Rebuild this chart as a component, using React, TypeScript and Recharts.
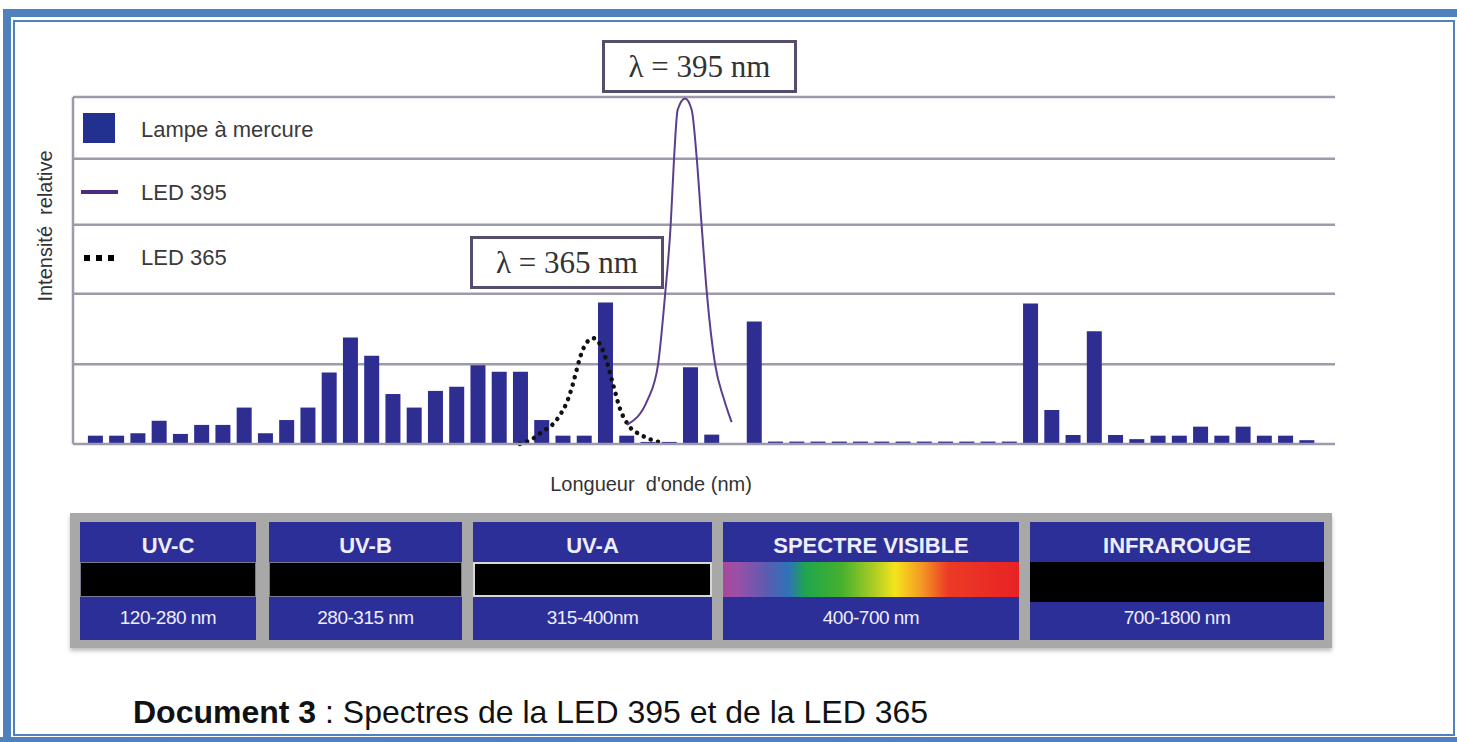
import React from "react";
import { ComposedChart, Bar, Line, XAxis, YAxis, ReferenceLine } from "recharts";

// relative intensity, 100 = top grid line
const mercury = [
  2.4, 2.4, 3.1, 6.7, 2.9, 5.5, 5.5, 10.5, 3.1, 6.9, 10.5, 20.6, 30.7, 25.4, 14.4, 10.5,
  15.3, 16.5, 22.7, 20.8, 20.8, 6.9, 2.4, 2.4, 40.8, 2.4, 0.6, 0.6, 22.1, 2.7, 0, 35.3,
  0.7, 0.7, 0.7, 0.7, 0.7, 0.7, 0.7, 0.7, 0.7, 0.7, 0.7, 0.7,
  40.5, 9.8, 2.6, 32.5, 2.6, 1.4, 2.4, 2.4, 5.0, 2.4, 5.0, 2.4, 2.4, 1.1,
];

// LED curves, x in bar positions
const led395X = [25.01, 25.99, 26.47, 26.8, 27.06, 27.22, 27.39, 27.74, 28.05, 28.29, 28.52, 28.77, 29.15, 29.57, 29.93];
const led395Y = [5.5, 12.9, 23.0, 43.1, 62.9, 82.2, 96.3, 99.6, 96.3, 82.2, 62.9, 43.1, 23.0, 12.9, 6.3];

const led365X = [19.97, 20.54, 21.05, 21.52, 21.85, 22.18, 22.42, 22.61, 22.8, 23.12, 23.41, 23.74, 24.02, 24.35, 24.68, 25.1, 25.67, 26.32, 26.8];
const led365Y = [0, 1.4, 3.7, 5.7, 8.3, 12.1, 16.4, 20.7, 25.0, 29.3, 30.5, 28.7, 24.4, 17.2, 10.1, 5.2, 2.6, 0.9, 0.3];

// grid lines (no labels in the original)
const yTicks = [23, 43.3, 63.2, 82.2, 100];

const bandNames = ["UV-C", "UV-B", "UV-A", "SPECTRE VISIBLE", "INFRAROUGE"];
const bandRanges = ["120-280 nm", "280-315 nm", "315-400nm", "400-700 nm", "700-1800 nm"];

const barData = mercury.map((v, i) => ({ i, hg: v }));
const data395 = led395X.map((x, k) => ({ u: x, led: led395Y[k] }));
const data365 = led365X.map((x, k) => ({ u: x, led: led365Y[k] }));

const SANS = "'Liberation Sans', Arial, sans-serif";
const SERIF = "'Liberation Serif', 'Times New Roman', serif";
const BLUE = "#4f81bd";
const GRID = "#9c9aab";

const bandStyle = [
  { left: 80, width: 176 },
  { left: 269, width: 193 },
  { left: 473, width: 239 },
  { left: 723, width: 296 },
  { left: 1030, width: 294 },
];

const visibleGradient =
  "linear-gradient(to right, #a8489a 0%, #9a50a8 5%, #5a5cb0 15%, #2f72b8 22%, #1fa64c 28%, #45b02e 40%, #b6cf22 52%, #f4e41c 58%, #f49a24 67%, #ec3a26 76%, #e82224 100%)";

function Band({ k }: { k: number }) {
  const s = bandStyle[k];
  const isVisible = k === 3;
  const isIR = k === 4;
  return (
    <div style={{ position: "absolute", left: s.left, top: 522, width: s.width, height: 118, background: "#2c2f98" }}>
      <div style={{ position: "absolute", left: 0, right: 0, top: 11, textAlign: "center", color: "#eef", fontFamily: SANS, fontWeight: "bold", fontSize: 22 }}>
        {bandNames[k]}
      </div>
      <div
        style={{
          position: "absolute",
          left: 0,
          right: 0,
          top: 40,
          height: isIR ? 40 : 35,
          background: isVisible ? visibleGradient : "#000",
          boxSizing: "border-box",
          border: k === 2 ? "2px solid #d8d8d8" : isVisible || isIR ? "none" : "1px solid #7a7a90",
        }}
      />
      <div style={{ position: "absolute", left: 0, right: 0, top: 85, textAlign: "center", color: "#eef", fontFamily: SANS, fontSize: 19, letterSpacing: -0.5 }}>
        {bandRanges[k]}
      </div>
    </div>
  );
}

export default function App() {
  return (
    <div style={{ position: "absolute", left: 0, top: 0, width: 1457, height: 742, background: "#fff", overflow: "hidden" }}>
      {/* page frame */}
      <div style={{ position: "absolute", left: 3, top: 9, width: 1470, height: 760, borderTop: `8px solid ${BLUE}`, borderLeft: `8px solid ${BLUE}` }} />
      <div style={{ position: "absolute", left: 0, top: 737, width: 1457, height: 5, background: BLUE }} />
      <div style={{ position: "absolute", left: 13, top: 20, width: 1442, height: 716, boxSizing: "border-box", border: `2px solid ${BLUE}` }} />

      <div style={{ position: "absolute", left: 0, top: 0 }}>
        <ComposedChart width={1457} height={500} data={barData} margin={{ top: 97, right: 122, left: 72, bottom: 55 }}>
          <XAxis
            xAxisId="cat"
            dataKey="i"
            type="category"
            padding={{ left: 11.9, right: 17.4 }}
            tick={false}
            tickLine={false}
            axisLine={{ stroke: GRID, strokeWidth: 2.5 }}
            height={1}
          />
          <XAxis xAxisId="num" dataKey="u" type="number" domain={[-1.06, 58.32]} allowDataOverflow hide />
          <YAxis yAxisId="y" type="number" domain={[0, 100]} tick={false} tickLine={false} axisLine={{ stroke: GRID, strokeWidth: 2.5 }} width={1} />
          {yTicks.map((v) => (
            <ReferenceLine key={v} xAxisId="cat" yAxisId="y" y={v} stroke={GRID} strokeWidth={2.5} zIndex={-50} />
          ))}
          <Bar xAxisId="cat" yAxisId="y" dataKey="hg" fill="#2d2d92" barSize={15} isAnimationActive={false} />
          <Line xAxisId="num" yAxisId="y" data={data365} dataKey="led" type="monotone" stroke="#111" strokeWidth={4.5} strokeDasharray="0.1 7.5" strokeLinecap="round" dot={false} isAnimationActive={false} />
          <Line xAxisId="num" yAxisId="y" data={data395} dataKey="led" type="monotone" stroke="#5b3f8c" strokeWidth={2} dot={false} isAnimationActive={false} />
        </ComposedChart>
      </div>

      {/* legend */}
      <div style={{ position: "absolute", left: 83, top: 113, width: 32, height: 30, background: "#22318f" }} />
      <div style={{ position: "absolute", left: 81, top: 190, width: 37, height: 4, background: "#4b2c7f" }} />
      <svg style={{ position: "absolute", left: 80, top: 250 }} width={45} height={16}>
        <line x1={4} y1={8} x2={40} y2={8} stroke="#000" strokeWidth={6} strokeDasharray="6 6" />
      </svg>
      {[
        { t: "Lampe à mercure", y: 130 },
        { t: "LED 395", y: 193 },
        { t: "LED 365", y: 258 },
      ].map((d) => (
        <div key={d.t} style={{ position: "absolute", left: 141, top: d.y - 13, lineHeight: "26px", fontFamily: SANS, fontSize: 22, color: "#3a3a3a", whiteSpace: "nowrap" }}>
          {d.t}
        </div>
      ))}

      {/* axis titles */}
      <div style={{ position: "absolute", left: 45, top: 226, transform: "translate(-50%, -50%) rotate(-90deg)", fontFamily: SANS, fontSize: 20, color: "#333", whiteSpace: "nowrap" }}>
        Intensité&nbsp; relative
      </div>
      <div style={{ position: "absolute", left: 651, top: 484, transform: "translate(-50%, -50%)", fontFamily: SANS, fontSize: 20, color: "#333", whiteSpace: "nowrap" }}>
        Longueur&nbsp; d'onde (nm)
      </div>

      {/* peak labels */}
      <div style={{ position: "absolute", left: 602, top: 40, width: 195, height: 53, boxSizing: "border-box", border: "3px solid #564c6e", background: "#fff", fontFamily: SERIF, fontSize: 31, color: "#333", display: "flex", alignItems: "center", justifyContent: "center" }}>
        λ = 395 nm
      </div>
      <div style={{ position: "absolute", left: 470, top: 236, width: 194, height: 53, boxSizing: "border-box", border: "3px solid #564c6e", background: "#fff", fontFamily: SERIF, fontSize: 31, color: "#333", display: "flex", alignItems: "center", justifyContent: "center" }}>
        λ = 365 nm
      </div>

      {/* spectral bands */}
      <div style={{ position: "absolute", left: 70, top: 513, width: 1262, height: 135, background: "#a8a8a8", boxShadow: "0 3px 4px rgba(0,0,0,0.25)" }} />
      {bandNames.map((_, k) => (
        <Band key={k} k={k} />
      ))}

      {/* caption */}
      <div style={{ position: "absolute", left: 133, top: 695, fontFamily: SANS, fontSize: 32, color: "#111", whiteSpace: "nowrap", lineHeight: "34px" }}>
        <b>Document 3</b> : Spectres de la LED 395 et de la LED 365
      </div>
    </div>
  );
}
